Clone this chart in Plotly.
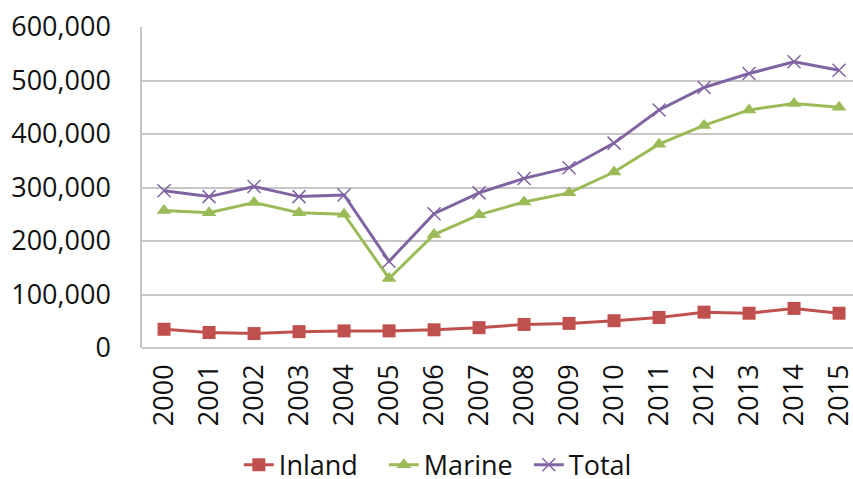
import plotly.graph_objects as go

years = [str(y) for y in range(2000, 2016)]
inland = [35000, 29000, 27000, 30500, 32000, 32000, 34000, 38000, 44000, 46000, 51000, 57000, 67000, 65000, 74000, 65000]
marine = [257000, 253000, 272000, 253000, 250000, 130000, 212000, 249000, 273000, 290000, 329000, 381000, 416000, 445000, 457000, 450000]
total = [294000, 283000, 302000, 283000, 286000, 162000, 251000, 290000, 317000, 337000, 383000, 445000, 487000, 513000, 535000, 519000]
y_ticks = [0, 100000, 200000, 300000, 400000, 500000, 600000]
y_labels = ["0", "100,000", "200,000", "300,000", "400,000", "500,000", "600,000"]

FONT = "Open Sans, sans-serif"

fig = go.Figure()
fig.add_trace(go.Scatter(x=years, y=inland, name="Inland", mode="lines+markers",
                         line=dict(color="#C0504D", width=3),
                         marker=dict(symbol="square", size=13, color="#C0504D")))
fig.add_trace(go.Scatter(x=years, y=marine, name="Marine", mode="lines+markers",
                         line=dict(color="#9BBB59", width=3),
                         marker=dict(symbol="triangle-up", size=13, color="#9BBB59")))
fig.add_trace(go.Scatter(x=years, y=total, name="Total", mode="lines+markers",
                         line=dict(color="#8064A2", width=3),
                         marker=dict(symbol="x-thin-open", size=13, color="#8064A2",
                                     line=dict(color="#8064A2", width=1.5))))

fig.update_layout(
    width=853, height=479,
    margin=dict(l=142, r=0, t=27, b=131, autoexpand=False),
    paper_bgcolor="white", plot_bgcolor="white",
    font=dict(family=FONT, size=26, color="#111111"),
    showlegend=True,
    legend=dict(orientation="h", xref="container", x=0.28, xanchor="left",
                yref="paper", y=-0.365, yanchor="middle",
                font=dict(size=27), itemwidth=30, tracegroupgap=0,
                entrywidth=100, entrywidthmode="pixels",
                bgcolor="rgba(0,0,0,0)"),
)
fig.update_xaxes(type="category", range=[-0.49, 15.31], tickangle=-90,
                 showgrid=False, showline=False, ticks="", automargin=False,
                 ticklabelstandoff=10, tickfont=dict(size=27), fixedrange=True)
fig.update_yaxes(range=[0, 600000], tickvals=y_ticks, ticktext=y_labels,
                 showgrid=True, gridcolor="#C6C6C6", gridwidth=1.5,
                 showline=True, linecolor="#C6C6C6", linewidth=1.5,
                 zeroline=True, zerolinecolor="#C6C6C6", zerolinewidth=1.5,
                 ticks="", ticklabelstandoff=24, automargin=False,
                 tickfont=dict(size=27), fixedrange=True)

fig.write_html("out.html", config={"displayModeBar": False},
               post_script="document.body.style.margin='0';document.body.style.overflow='hidden';")
